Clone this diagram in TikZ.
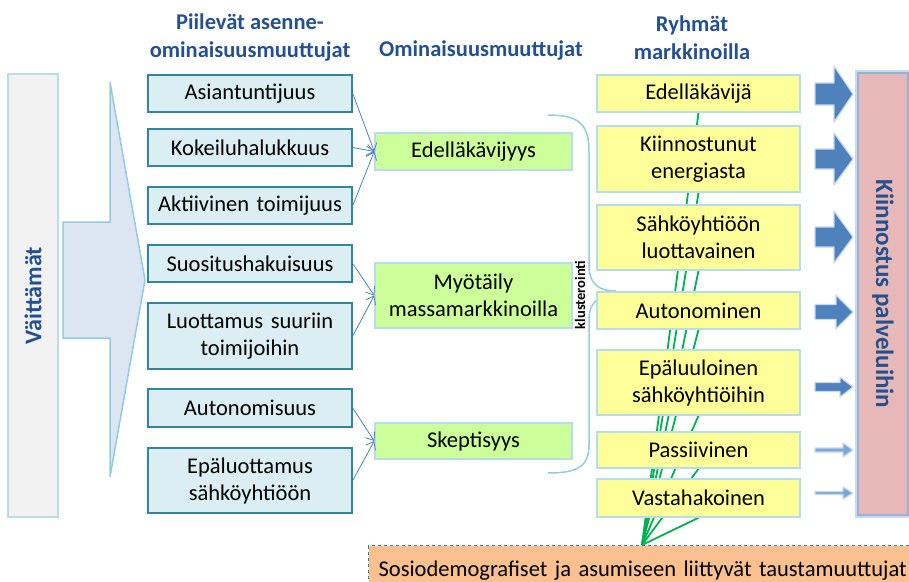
\documentclass[tikz,border=0pt]{standalone}
\usepackage{fontspec}
\setmainfont{Carlito}
\usetikzlibrary{arrows.meta,backgrounds}
\definecolor{lfill}{HTML}{DAEEF3}
\definecolor{ldraw}{HTML}{31859C}
\definecolor{gfill}{HTML}{CCFF99}
\definecolor{pale}{HTML}{B7DDE8}
\definecolor{yfill}{HTML}{FFFF99}
\definecolor{pfill}{HTML}{E6B9B8}
\definecolor{pdraw}{HTML}{95B3D7}
\definecolor{arrblue}{HTML}{4F81BD}
\definecolor{arrlight}{HTML}{7BA7D6}
\definecolor{ofill}{HTML}{FAC090}
\definecolor{hblue}{HTML}{24508F}
\definecolor{vfill}{HTML}{F2F2F2}
\definecolor{bigfill}{HTML}{DCE6F2}
\definecolor{bigdraw}{HTML}{93CDDD}
\definecolor{glow}{HTML}{C6D9F1}
\definecolor{linegreen}{HTML}{00B050}
\newcommand\fatarr[6]{% y, shaft half, head half, head base x, fill, edge
  \filldraw[fill=#5, draw=#6, line width=1.2, line join=round]
    (815,#1-#2) -- (#4,#1-#2) -- (#4,#1-#3) -- (853,#1) -- (#4,#1+#3)
    -- (#4,#1+#2) -- (815,#1+#2) -- cycle;}
\begin{document}
\begin{tikzpicture}[x=1pt,y=-1pt,
  txt/.style={font=\fontsize{22.5}{27}\selectfont, align=center, inner sep=0pt},
  hdr/.style={font=\bfseries\fontsize{22.5}{28}\selectfont, align=center, text=hblue, inner sep=0pt},
  lbox/.style={txt, draw=ldraw, fill=lfill, line width=1.5, minimum width=204, text width=200},
  gbox/.style={txt, draw=pale, fill=gfill, line width=1.5, minimum width=197, text width=193},
  ybox/.style={txt, draw=pale, fill=yfill, line width=1.5, minimum width=203, text width=199},
  conn/.style={draw=arrblue, line width=0.8, -{Straight Barb[length=7,width=11]}},
  glink/.style={draw=linegreen, line width=1.8}]
\useasboundingbox (0,0) rectangle (909,581);

% headers
\node[hdr] (h1) at (250,38) {Piilevät asenne-\\ominaisuusmuuttujat};
\node[hdr] (h2) at (481,51) {Ominaisuusmuuttujat};
\node[hdr] (h3) at (692,38) {Ryhmät\\markkinoilla};

% left statements box and big arrow
\node[draw=pale, fill=vfill, line width=1.5, minimum width=443, minimum height=50,
      rotate=90, inner sep=0pt, text=hblue, font=\bfseries\fontsize{24}{28}\selectfont]
      (vt) at (33,295.5) {Väittämät};
\filldraw[fill=bigfill, draw=bigdraw, line width=1.5, line join=miter]
  (63,222) -- (110,222) -- (110,82) -- (145,280) -- (110,477) -- (110,338) -- (63,338) -- cycle;

% latent attitude variables
\node[lbox, minimum height=37] (a1) at (250,93.5) {Asiantuntijuus};
\node[lbox, minimum height=37] (a2) at (250,147.5) {Kokeiluhalukkuus};
\node[lbox, minimum height=37] (a3) at (250,205.5) {Aktiivinen toimijuus};
\node[lbox, minimum height=37] (a4) at (250,263.5) {Suositushakuisuus};
\node[lbox, minimum height=66] (a5) at (250,336) {Luottamus suuriin\\toimijoihin};
\node[lbox, minimum height=38] (a6) at (250,408) {Autonomisuus};
\node[lbox, minimum height=65] (a7) at (250,480.5) {Epäluottamus\\sähköyhtiöön};

% property variables
\node[gbox, minimum height=37] (g1) at (473.5,151.5) {Edelläkävijyys};
\node[gbox, minimum height=65] (g2) at (473.5,295.5) {Myötäily\\massamarkkinoilla};
\node[gbox, minimum height=36] (g3) at (473.5,441) {Skeptisyys};

\draw[conn] (a1.east) -- (g1.west);
\draw[conn] (a2.east) -- (g1.west);
\draw[conn] (a3.east) -- (g1.west);
\draw[conn] (a4.east) -- (g2.west);
\draw[conn] (a5.east) -- (g2.west);
\draw[conn] (a6.east) -- (g3.west);
\draw[conn] (a7.east) -- (g3.west);

% clustering brace
\draw[bigdraw, line width=1.5]
  (548,115) .. controls (580,115) and (589,125) .. (589,152) -- (589,266)
  .. controls (589,283) and (598,291) .. (616,291);
\draw[bigdraw, line width=1.5]
  (628,293) .. controls (600,293) and (589,300) .. (589,320) -- (589,445)
  .. controls (589,466) and (578,473) .. (548,473);
\node[rotate=90, inner sep=0pt, font=\bfseries\fontsize{14.5}{16}\selectfont] (kl) at (580,295) {klusterointi};

% groups on the market
\node[ybox, minimum height=37] (y1) at (698.5,93.5) {Edelläkävijä};
\node[ybox, minimum height=66] (y2) at (698.5,159) {Kiinnostunut\\energiasta};
\node[ybox, minimum height=65] (y3) at (698.5,237.5) {Sähköyhtiöön\\luottavainen};
\node[ybox, minimum height=37] (y4) at (698.5,310.5) {Autonominen};
\node[ybox, minimum height=65] (y5) at (698.5,382.5) {Epäluuloinen\\sähköyhtiöihin};
\node[ybox, minimum height=36] (y6) at (698.5,450) {Passiivinen};
\node[ybox, minimum height=38] (y7) at (698.5,498) {Vastahakoinen};

% background variables
\node[txt, draw=ldraw, dashed, line width=1.2, fill=ofill, anchor=north west,
      minimum width=560, minimum height=50, text width=540, align=left, inner xsep=9pt]
      (bg) at (368,545) {Sosiodemografiset ja asumiseen liittyvät taustamuuttujat};
\coordinate (conv) at (642,545);

\begin{scope}[on background layer]
\foreach \n in {y1,y2,y3,y4,y5,y6,y7}
  \draw[glink] (\n.south) -- (conv);
\end{scope}

% interest box
\draw[glow, line width=6] (858,73) rectangle (908,515);
\node[draw=pdraw, fill=pfill, line width=2, minimum width=442, minimum height=50,
      rotate=-90, inner sep=0pt, text=hblue, font=\bfseries\fontsize{25}{28}\selectfont]
      (ki) at (883,294) {Kiinnostus palveluihin};

% fat arrows
\fatarr{94}{11}{28}{834}{arrblue}{glow}
\fatarr{159}{10}{26}{834}{arrblue}{glow}
\fatarr{237}{10}{26}{834}{arrblue}{glow}
\fatarr{312}{7.5}{17}{836}{arrblue}{glow}
\fatarr{387}{4.5}{10}{840}{arrblue}{glow}
\fatarr{450}{2}{7}{843}{arrlight}{glow}
\fatarr{493}{1.5}{6}{843}{arrlight}{glow}
\end{tikzpicture}
\end{document}
